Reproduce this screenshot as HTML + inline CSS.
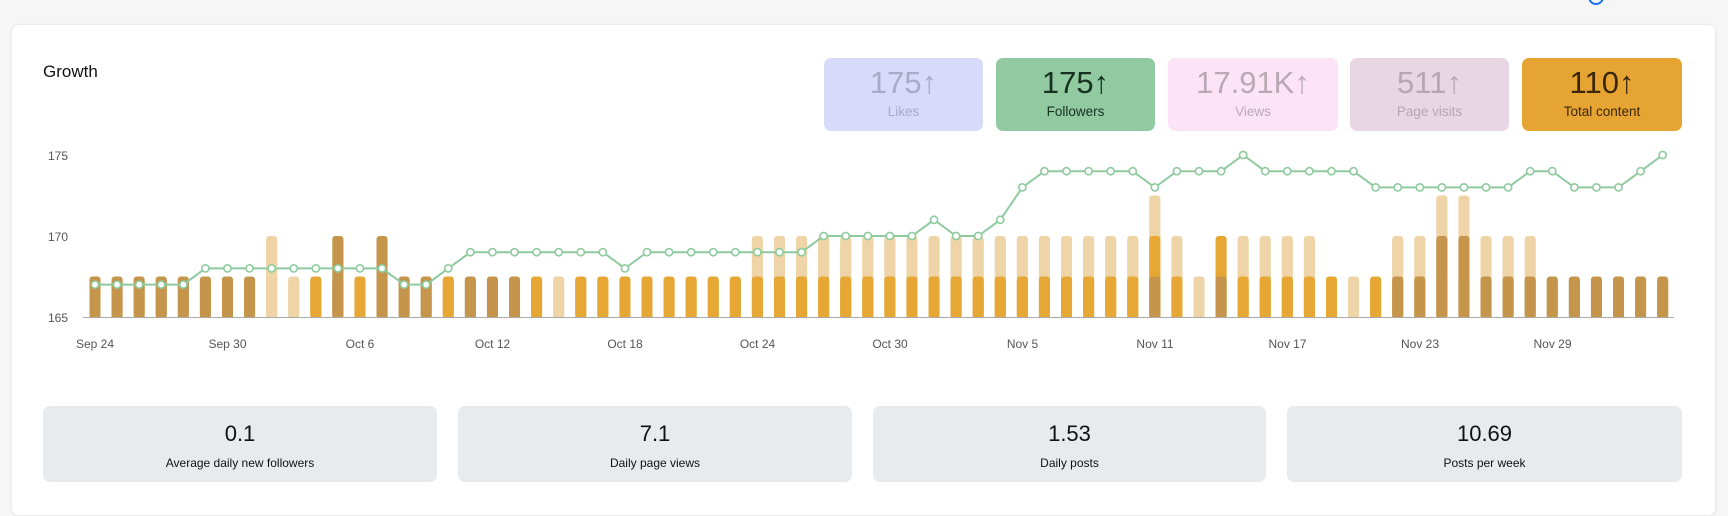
<!DOCTYPE html>
<html><head><meta charset="utf-8">
<style>
body{margin:0;width:1728px;height:499px;background:#f6f6f6;font-family:"Liberation Sans",sans-serif;overflow:hidden;position:relative}
.card{position:absolute;left:11px;top:24px;width:1703px;height:490px;background:#fff;border:1px solid #ececec;border-radius:8px;box-shadow:0 1px 4px rgba(0,0,0,.05)}
.t{position:absolute;left:43px;top:62px;font-size:17px;color:#111}
.k{position:absolute;top:58px;height:73px;border-radius:7px;text-align:center}
.k .n{font-size:31px;margin-top:8px;line-height:34px}
.k .l{font-size:13.5px;margin-top:4px}
.s{position:absolute;top:406px;height:76px;background:#e8ebee;border-radius:7px;text-align:center;color:#111}
.s .n{font-size:22px;margin-top:15px}
.s .l{font-size:12px;margin-top:9px}
svg{position:absolute;left:0;top:0}
</style></head><body>
<div style="position:absolute;left:1588px;top:-11px;width:12px;height:12px;border-radius:50%;border:2px solid #1a6ff0"></div>
<div class="card"></div>
<div class="t">Growth</div>
<div class="k" style="left:824px;width:159px;background:#d8dafa;color:#a9aac6"><div class="n">175↑</div><div class="l">Likes</div></div>
<div class="k" style="left:996px;width:159px;background:#91c9a1;color:#17301f"><div class="n">175↑</div><div class="l">Followers</div></div>
<div class="k" style="left:1168px;width:170px;background:#fce4f6;color:#b9a8b5"><div class="n">17.91K↑</div><div class="l">Views</div></div>
<div class="k" style="left:1350px;width:159px;background:#e8d6e3;color:#b7a6b2"><div class="n">511↑</div><div class="l">Page visits</div></div>
<div class="k" style="left:1522px;width:160px;background:#e6a532;color:#3a2608"><div class="n">110↑</div><div class="l">Total content</div></div>
<svg id="c" width="1728" height="499" font-family="Liberation Sans, sans-serif">
<g font-size="12" fill="#555" text-anchor="end">
<text x="68" y="160">175</text><text x="68" y="241">170</text><text x="68" y="322">165</text></g>
<line x1="83" y1="317.5" x2="1674" y2="317.5" stroke="#aaa" stroke-width="1"/>
<g font-size="12" fill="#555" text-anchor="middle">
<text x="95" y="348">Sep 24</text><text x="227.5" y="348">Sep 30</text><text x="360" y="348">Oct 6</text>
<text x="492.5" y="348">Oct 12</text><text x="625" y="348">Oct 18</text><text x="757.5" y="348">Oct 24</text>
<text x="890" y="348">Oct 30</text><text x="1022.5" y="348">Nov 5</text><text x="1155" y="348">Nov 11</text>
<text x="1287.5" y="348">Nov 17</text><text x="1420" y="348">Nov 23</text><text x="1552.5" y="348">Nov 29</text></g>
<g id="bars"></g><g id="ln"></g>
</svg>
<div class="s" style="left:43px;width:394px"><div class="n">0.1</div><div class="l">Average daily new followers</div></div>
<div class="s" style="left:458px;width:394px"><div class="n">7.1</div><div class="l">Daily page views</div></div>
<div class="s" style="left:873px;width:393px"><div class="n">1.53</div><div class="l">Daily posts</div></div>
<div class="s" style="left:1287px;width:395px"><div class="n">10.69</div><div class="l">Posts per week</div></div>
<script>
(function(){
var C={D:"#c4954a",O:"#e6a735",L:"#eed4a6"};
var spec=[];
for(var i=0;i<72;i++)spec.push("O");
function st(a,b,v){for(var i=a;i<=b;i++)spec[i]=v;}
st(0,7,"D");spec[8]="LL";spec[9]="L";spec[10]="O";spec[11]="DD";spec[12]="O";spec[13]="DD";
spec[14]="D";spec[15]="D";spec[16]="O";st(17,19,"D");spec[20]="O";spec[21]="L";st(22,29,"O");
st(30,47,"OL");spec[48]="DOL";spec[49]="OL";spec[50]="L";spec[51]="DO";st(52,55,"OL");
spec[56]="O";spec[57]="L";spec[58]="O";spec[59]="DL";spec[60]="DL";spec[61]="DDL";spec[62]="DDL";
st(63,65,"DL");st(66,71,"D");
var vals=[];
function sv(a,b,v){for(var i=a;i<=b;i++)vals[i]=v;}
sv(0,4,167);sv(5,13,168);sv(14,15,167);vals[16]=168;sv(17,23,169);vals[24]=168;sv(25,32,169);
sv(33,37,170);vals[38]=171;sv(39,40,170);vals[41]=171;vals[42]=173;sv(43,47,174);vals[48]=173;
sv(49,51,174);vals[52]=175;sv(53,57,174);sv(58,64,173);sv(65,66,174);sv(67,69,173);vals[70]=174;vals[71]=175;
function Y(v){return 317-(v-165)*16.2;}
function X(i){return 95+i*22.08;}
var h="";
var lv=[165,167.5,170,172.5];
for(var i=0;i<72;i++){var s=spec[i];var x=X(i)-5.5;
 for(var j=s.length-1;j>=0;j--){var ty=Y(lv[j+1]);var bot=317;
  h+='<rect x="'+x+'" y="'+ty+'" width="11" height="'+(bot-ty)+'" rx="3" fill="'+C[s[j]]+'"/>';
  h+='<rect x="'+x+'" y="'+(ty+4)+'" width="11" height="'+(bot-ty-4)+'" fill="'+C[s[j]]+'"/>';}
}
document.getElementById("bars").innerHTML=h;
var p="",c="";
for(var i=0;i<72;i++){p+=(i?"L":"M")+X(i)+" "+Y(vals[i]);c+='<circle cx="'+X(i)+'" cy="'+Y(vals[i])+'" r="3.6" fill="#fff" stroke="#8fca9f" stroke-width="1.6"/>';}
document.getElementById("ln").innerHTML='<path d="'+p+'" fill="none" stroke="#8fca9f" stroke-width="2"/>'+c;
})();
</script>
</body></html>
